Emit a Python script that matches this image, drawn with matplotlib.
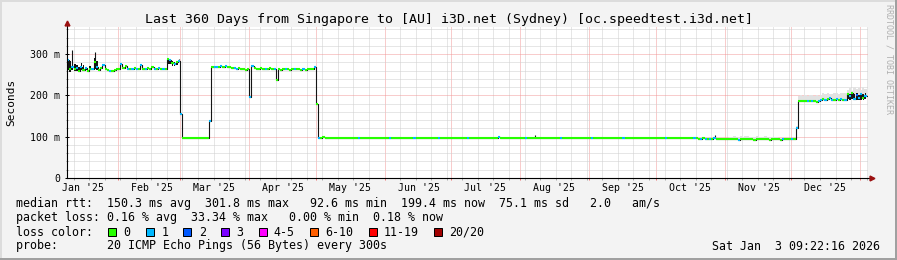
import datetime as dt
import numpy as np
import matplotlib
matplotlib.use("Agg")
import matplotlib.pyplot as plt
import matplotlib.dates as mdates
import matplotlib.transforms as mtransforms
from matplotlib.patches import Rectangle
from matplotlib.ticker import FixedLocator, MultipleLocator, NullFormatter

plt.rcParams["font.family"] = "DejaVu Sans Mono"

# ---- data ----
first_day = dt.date(2025, 1, 9)

# daily median rtt in ms
rtt_jan25 = [286, 264, 268, 263, 266, 260, 268, 262, 266, 259, 264, 263, 280, 268,
             262, 266, 274, 265, 261, 259, 260, 262, 263]
rtt_feb25 = [265, 277, 266, 271, 264, 265, 263, 266, 264, 265, 273, 265, 264, 266,
             265, 270, 265, 264, 266, 265, 265, 265, 289, 285, 278, 276, 280, 284]
rtt_mar25 = [156, 98, 98, 97.5, 98, 98, 97.5, 98, 98, 98, 97.5, 98, 98, 139,
             268, 270, 270, 269, 271, 270, 272, 269, 268, 266, 266, 265, 266, 264,
             263, 262, 263]
rtt_apr25 = [197, 271, 266, 265, 264, 266, 265, 264, 265, 266, 264, 265, 238, 263,
             262, 263, 264, 263, 262, 263, 264, 264, 263, 262, 263, 262, 264, 263,
             263, 270]
rtt_may25 = [180, 98, 98, 98.5, 98, 98, 97.5, 98, 98, 98, 97.5, 98, 98, 97, 97, 97,
             96.5, 97, 97, 96.5, 97, 97, 96.5, 96.5, 97, 96.5, 96.5, 97, 96.5, 96.5,
             96.5]
rtt_jun25 = [96.5, 96.5, 96, 96.5, 96.5, 96, 96.5, 96.5, 96.5, 96, 96.5, 96.5, 96,
             96.5, 96.5, 96.5, 96, 96.5, 96.5, 96, 96.5, 96.5, 96.5, 96, 96.5, 96.5,
             96, 96.5, 96.5, 96.5]
rtt_jul25 = [96.5, 96.5, 96, 96.5, 96.5, 96.5, 96, 96.5, 96.5, 96.5, 96, 96.5, 96.5,
             96.5, 96, 96.5, 96.5, 96.5, 96, 96.5, 97, 98.5, 96.5, 96.5, 96, 96.5,
             96.5, 96.5, 96, 96.5, 96.5]
rtt_aug25 = [96.5, 96.5, 96, 96.5, 96.5, 96.5, 98, 96.5, 96.5, 96, 96.5, 96.5, 96.5,
             96, 96.5, 96.5, 96.5, 96, 96.5, 96.5, 96.5, 96, 96.5, 96.5, 96.5, 96,
             96.5, 96.5, 96.5, 96, 96.5]
rtt_sep25 = [96.5, 96.5, 96, 96.5, 96.5, 96.5, 96, 96.5, 96.5, 96.5, 96, 96.5, 96.5,
             96.5, 96, 96.5, 96.5, 96.5, 96, 96.5, 96.5, 96.5, 96, 96.5, 96.5, 96.5,
             96, 96.5, 96.5, 96.5]
rtt_oct25 = [96.5, 96.5, 96, 96.5, 96.5, 96.5, 96, 96.5, 96.5, 96.5, 96, 96.5, 96.5,
             96.5, 96, 96.5, 96.5, 96.5, 96, 95.5, 95, 96, 94.5, 95.5, 95, 94.5, 97,
             94, 93.5, 94, 93.5]
rtt_nov25 = [93.5, 93.5, 94, 93.5, 93.5, 93.5, 93, 93.5, 93.5, 94, 93.5, 93.5, 93.5,
             93, 93.5, 93.5, 93.5, 94, 93.5, 93.5, 93, 93.5, 93.5, 93.5, 93.5, 93,
             93.5, 93.5, 93.5, 93.5]
rtt_dec25 = [93.5, 93.5, 120, 187, 187, 186, 187, 186, 186, 187, 186, 185, 186, 190,
             192, 189, 191, 193, 188, 190, 192, 189, 191, 190, 190, 203, 198, 205, 192,
             200, 195]
rtt_jan26 = [204, 193, 199]

# days with 1 or 2 of 20 pings lost
loss1_days = ["2025-01-09", "2025-01-11", "2025-01-13", "2025-01-15", "2025-01-17",
              "2025-01-20", "2025-01-22", "2025-01-25", "2025-01-28",
              "2025-02-02", "2025-02-05", "2025-02-07", "2025-02-09", "2025-02-11",
              "2025-02-13", "2025-02-17", "2025-02-19", "2025-02-21", "2025-02-24",
              "2025-02-26", "2025-02-28", "2025-03-01", "2025-03-14",
              "2025-03-16", "2025-03-17", "2025-03-19", "2025-03-21", "2025-03-25",
              "2025-03-26", "2025-04-01", "2025-04-02", "2025-04-08", "2025-04-12",
              "2025-04-17", "2025-04-21", "2025-04-25",
              "2025-04-30", "2025-05-02", "2025-05-20", "2025-06-03", "2025-06-14",
              "2025-06-25", "2025-07-08", "2025-07-22", "2025-08-03", "2025-08-19",
              "2025-09-02", "2025-09-16", "2025-10-05", "2025-10-18", "2025-10-21",
              "2025-10-23", "2025-10-25", "2025-10-27", "2025-11-07", "2025-11-27",
              "2025-12-01", "2025-12-03", "2025-12-08", "2025-12-10", "2025-12-13",
              "2025-12-14", "2025-12-16", "2025-12-18", "2025-12-19", "2025-12-21",
              "2025-12-23", "2025-12-25", "2025-12-27", "2025-12-29", "2025-12-31",
              "2026-01-01", "2026-01-03"]
loss2_days = ["2025-12-30"]

# short excursions of the median inside a day (ms)
spike_days = ["2025-01-11", "2025-01-21", "2025-02-02", "2025-02-04", "2025-02-11",
              "2025-02-16", "2025-02-28", "2025-07-22", "2025-08-07", "2025-10-27"]
spike_vals = [310, 305, 279, 273, 275, 271, 288, 103, 104, 104]

# days where the median swings a lot within the day (low / high, ms)
swing_days = ["2025-01-09", "2025-01-10", "2025-01-11", "2025-01-12", "2025-01-13",
              "2025-01-14", "2025-01-15", "2025-01-16", "2025-01-17", "2025-01-19",
              "2025-01-21", "2025-01-22", "2025-02-23", "2025-02-24", "2025-02-25",
              "2025-02-26", "2025-02-27", "2025-12-26", "2025-12-27", "2025-12-28",
              "2025-12-29", "2025-12-30", "2025-12-31", "2026-01-01", "2026-01-02",
              "2026-01-03"]
swing_lo = [262, 258, 262, 260, 260, 258, 262, 261, 262, 261, 264, 262, 276, 276, 272,
            271, 274, 192, 190, 191, 189, 190, 188, 190, 189, 192]
swing_hi = [288, 284, 276, 276, 274, 270, 278, 275, 270, 271, 290, 284, 291, 288, 284,
            282, 281, 206, 204, 208, 203, 205, 202, 207, 204, 205]

# top of the grey smoke from Nov 1 2025 on
smoke_start = dt.date(2025, 11, 1)
smoke_top = [93.5, 94, 99, 100, 101, 100, 99, 101, 100, 101, 102, 100, 99, 100, 101,
             100, 99, 100, 101, 100, 99, 100, 100, 99, 98, 97, 95, 94, 94, 94,
             94, 94, 125, 198, 200, 199, 201, 198, 200, 201, 199, 200, 198, 202, 205,
             203, 206, 204, 203, 205, 207, 204, 206, 205, 207, 214, 218, 212, 221,
             216, 219, 213, 220, 215]

y_ticks = [0, 100, 200, 300]
y_labels = ["0", "100 m", "200 m", "300 m"]
month_labels = ["Jan '25", "Feb '25", "Mar '25", "Apr '25", "May '25", "Jun '25",
                "Jul '25", "Aug '25", "Sep '25", "Oct '25", "Nov '25", "Dec '25"]
loss_labels = ["0", "1", "2", "3", "4-5", "6-10", "11-19", "20/20"]
loss_colors = ["#26ff00", "#00b8ff", "#0059ff", "#7a00ff", "#ff00ff", "#ff5e00",
               "#ff0000", "#a10000"]

title = "Last 360 Days from Singapore to [AU] i3D.net (Sydney) [oc.speedtest.i3d.net]"
legend_rtt = ("median rtt:  150.3 ms avg  301.8 ms max   92.6 ms min  199.4 ms now"
              "  75.1 ms sd   2.0   am/s")
legend_loss = "packet loss: 0.16 % avg  33.34 % max   0.00 % min  0.18 % now"
legend_probe = "probe:       20 ICMP Echo Pings (56 Bytes) every 300s"
stamp = "Sat Jan  3 09:22:16 2026"

# ---- build series ----
rtt = np.array(rtt_jan25 + rtt_feb25 + rtt_mar25 + rtt_apr25 + rtt_may25 + rtt_jun25
               + rtt_jul25 + rtt_aug25 + rtt_sep25 + rtt_oct25 + rtt_nov25 + rtt_dec25
               + rtt_jan26, dtype=float)
days = [first_day + dt.timedelta(days=i) for i in range(len(rtt))]
x0 = mdates.date2num(days)
x1 = x0 + 1


def day_index(d):
    return (dt.date.fromisoformat(d) - first_day).days


loss = np.zeros(len(rtt), dtype=int)
for d in loss1_days:
    loss[day_index(d)] = 1
for d in loss2_days:
    loss[day_index(d)] = 2
seg_colors = [loss_colors[k] for k in loss]

W, H = 897, 260
fig = plt.figure(figsize=(W / 100, H / 100), dpi=100, facecolor="#f3f3f3")
L, R, T, B = 67, 868, 27, 178
ax = fig.add_axes([L / W, 1 - B / H, (R - L) / W, (B - T) / H])
ax.set_facecolor("white")

x_left = mdates.date2num(dt.datetime(2025, 1, 9, 1, 0))
ax.set_xlim(x_left, x_left + 360.55)
ax.set_ylim(0, 366)

# grid
gray = "#cfcfcf"
red = "#f29a9a"
ax.yaxis.set_major_locator(FixedLocator(y_ticks))
ax.yaxis.set_minor_locator(MultipleLocator(20))
ax.set_yticklabels(y_labels)
ax.xaxis.set_major_locator(mdates.MonthLocator())
ax.xaxis.set_minor_locator(mdates.WeekdayLocator(byweekday=mdates.SU))
ax.xaxis.set_major_formatter(NullFormatter())
ax.grid(which="minor", color=gray, lw=0.72, ls=(0, (1, 1)))
ax.grid(which="major", color=red, lw=0.72, ls=(0, (1, 1)))
ax.set_axisbelow(True)
for s in ax.spines.values():
    s.set_visible(False)
ax.tick_params(axis="y", which="major", direction="inout", length=3, width=0.72,
               color="black", labelsize=7.1, pad=3.4)
ax.tick_params(axis="y", which="minor", direction="inout", length=2, width=0.72,
               color="#999999")
ax.tick_params(axis="x", which="major", direction="out", length=1.6, width=0.72,
               color="#ee7777")
ax.tick_params(axis="x", which="minor", direction="out", length=1.6, width=0.72,
               color="#aaaaaa")

# smoke
si = (smoke_start - first_day).days
sx = np.append(x0[si:], x1[-1])
s_lo = np.append(rtt[si:], rtt[-1])
s_hi = np.append(smoke_top, smoke_top[-1])
ax.fill_between(sx, s_lo, s_hi, step="post", color="#e2e2e2", lw=0, zorder=2)

# dark median line
dark = "#151515"
ax.step(np.append(x0, x1[-1]), np.append(rtt, rtt[-1]), where="post",
        color=dark, lw=0.8, zorder=3)
sp_idx = [day_index(d) for d in spike_days]
ax.vlines(x0[sp_idx] + 0.5, rtt[sp_idx], spike_vals, color=dark, lw=0.8, zorder=3)
sw_idx = [day_index(d) for d in swing_days]
ax.bar(x0[sw_idx] + 0.5, np.array(swing_hi) - np.array(swing_lo), bottom=swing_lo,
       width=0.75, color=dark, lw=0, zorder=3)

# loss-coloured median
ax.hlines(rtt, x0, x1, colors=seg_colors, lw=1.5, zorder=4)

# axes with arrows
ax.plot([0, 0], [0, 1.02], color="black", lw=0.8, transform=ax.transAxes,
        clip_on=False, zorder=5)
ax.plot([0, 1.003], [0, 0], color="black", lw=0.8, transform=ax.transAxes,
        clip_on=False, zorder=5)
ax.plot([0], [1.025], marker="^", ms=3.5, color="#9b1010", transform=ax.transAxes,
        clip_on=False, zorder=6)
ax.plot([1.005], [0], marker=">", ms=3.5, color="#9b1010", transform=ax.transAxes,
        clip_on=False, zorder=6)

# month labels
lab_tr = mtransforms.blended_transform_factory(ax.transData, ax.transAxes)
for m, lab in enumerate(month_labels):
    mx = mdates.date2num(dt.date(2025, m + 1, 1)) + 15.4
    ax.text(mx, -9.7 / (B - T), lab, transform=lab_tr, ha="center", va="center",
            fontsize=7.1)


# texts around the graph
def fx(px):
    return px / W


def fy(py):
    return 1 - py / H


fig.text(fx(10.8), fy(102.5), "Seconds", rotation=90, ha="center", va="center",
         fontsize=8)
fig.text(fx(448.5), fy(19), title, ha="center", va="center", fontsize=9.5)
fig.text(fx(889), fy(4), "RRDTOOL / TOBI OETIKER", rotation=270, ha="center",
         va="top", fontsize=6, color="#b0b0b0")

leg_fs = 8.34
cw = 6.975
fig.text(fx(16), fy(204), legend_rtt, ha="left", va="center", fontsize=leg_fs)
fig.text(fx(16), fy(218), legend_loss, ha="left", va="center", fontsize=leg_fs)
fig.text(fx(16), fy(232), "loss color:", ha="left", va="center", fontsize=leg_fs)
fig.text(fx(16), fy(246), legend_probe, ha="left", va="center", fontsize=leg_fs)
fig.text(fx(880), fy(246), stamp, ha="right", va="center", fontsize=leg_fs)

sq_x = 108.3
for lab, col in zip(loss_labels, loss_colors):
    fig.add_artist(Rectangle((fx(sq_x), fy(236)), 8 / W, 8 / H, facecolor=col,
                             edgecolor="black", lw=0.72, transform=fig.transFigure))
    fig.text(fx(sq_x + 15.3), fy(232), lab, ha="left", va="center", fontsize=leg_fs)
    sq_x += 15.3 + len(lab) * cw + 15.3

# image frame
fig.add_artist(Rectangle((0, 1 - 2 / H), 1, 2 / H, color="#dcdcdc", lw=0,
                         transform=fig.transFigure))
fig.add_artist(Rectangle((0, 0), 2 / W, 1, color="#dcdcdc", lw=0,
                         transform=fig.transFigure))
fig.add_artist(Rectangle((0, 0), 1, 2 / H, color="#a0a0a0", lw=0,
                         transform=fig.transFigure))
fig.add_artist(Rectangle((1 - 2 / W, 0), 2 / W, 1, color="#a0a0a0", lw=0,
                         transform=fig.transFigure))

fig.savefig("out.png", dpi=100, facecolor=fig.get_facecolor())
